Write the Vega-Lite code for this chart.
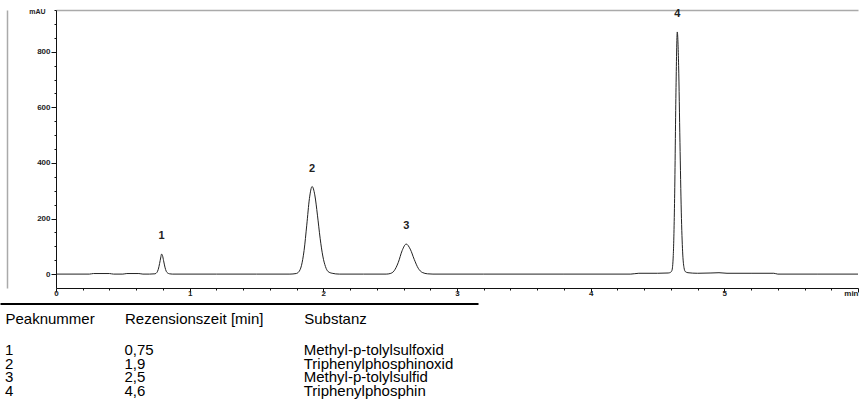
{
  "$schema": "https://vega.github.io/schema/vega-lite/v6.json",
  "background": "white",
  "padding": {"left": 0, "top": 6, "right": 0, "bottom": 0},
  "spacing": 1.5,
  "config": {
    "view": {"stroke": null},
    "font": "Liberation Sans",
    "axis": {"labelFont": "Liberation Sans", "titleFont": "Liberation Sans", "grid": false}
  },
  "datasets": {
    "signal": [
      {"t": 0, "mAU": 0}, {"t": 0.25, "mAU": 0}, {"t": 0.28, "mAU": 2}, {"t": 0.4, "mAU": 2},
      {"t": 0.43, "mAU": 0}, {"t": 0.5, "mAU": 0}, {"t": 0.53, "mAU": 2}, {"t": 0.62, "mAU": 2},
      {"t": 0.65, "mAU": 0}, {"t": 0.7, "mAU": 0}, {"t": 0.74, "mAU": 1}, {"t": 0.755, "mAU": 6},
      {"t": 0.765, "mAU": 17}, {"t": 0.775, "mAU": 38}, {"t": 0.783, "mAU": 58}, {"t": 0.79, "mAU": 72},
      {"t": 0.797, "mAU": 66}, {"t": 0.805, "mAU": 48}, {"t": 0.815, "mAU": 25}, {"t": 0.825, "mAU": 10},
      {"t": 0.835, "mAU": 4}, {"t": 0.85, "mAU": 1}, {"t": 0.87, "mAU": 0}, {"t": 1.2, "mAU": 0},
      {"t": 1.5, "mAU": 0}, {"t": 1.75, "mAU": 0}, {"t": 1.796, "mAU": 2}, {"t": 1.816, "mAU": 8},
      {"t": 1.836, "mAU": 30}, {"t": 1.856, "mAU": 85}, {"t": 1.876, "mAU": 176}, {"t": 1.896, "mAU": 272},
      {"t": 1.916, "mAU": 315}, {"t": 1.936, "mAU": 285}, {"t": 1.956, "mAU": 212}, {"t": 1.976, "mAU": 129},
      {"t": 1.996, "mAU": 65}, {"t": 2.016, "mAU": 27}, {"t": 2.036, "mAU": 9}, {"t": 2.066, "mAU": 3},
      {"t": 2.12, "mAU": 0}, {"t": 2.3, "mAU": 0}, {"t": 2.47, "mAU": 0}, {"t": 2.5, "mAU": 2},
      {"t": 2.53, "mAU": 12}, {"t": 2.56, "mAU": 41}, {"t": 2.59, "mAU": 85}, {"t": 2.62, "mAU": 108},
      {"t": 2.65, "mAU": 90}, {"t": 2.68, "mAU": 53}, {"t": 2.71, "mAU": 21}, {"t": 2.74, "mAU": 6},
      {"t": 2.78, "mAU": 1}, {"t": 2.82, "mAU": 0}, {"t": 3.2, "mAU": 0}, {"t": 3.8, "mAU": 0},
      {"t": 4.3, "mAU": 0}, {"t": 4.36, "mAU": 3}, {"t": 4.5, "mAU": 3}, {"t": 4.58, "mAU": 4},
      {"t": 4.598, "mAU": 6.5}, {"t": 4.608, "mAU": 13}, {"t": 4.618, "mAU": 67}, {"t": 4.628, "mAU": 272},
      {"t": 4.638, "mAU": 652}, {"t": 4.648, "mAU": 871}, {"t": 4.658, "mAU": 750}, {"t": 4.668, "mAU": 474},
      {"t": 4.678, "mAU": 223}, {"t": 4.688, "mAU": 80}, {"t": 4.698, "mAU": 24}, {"t": 4.708, "mAU": 9},
      {"t": 4.728, "mAU": 5}, {"t": 4.8, "mAU": 3}, {"t": 4.9, "mAU": 4}, {"t": 4.96, "mAU": 5},
      {"t": 5.02, "mAU": 3}, {"t": 5.2, "mAU": 3}, {"t": 5.37, "mAU": 3}, {"t": 5.4, "mAU": 0},
      {"t": 5.7, "mAU": 0}, {"t": 6, "mAU": 0}
    ],
    "peaks": [
      {"Peak": "1", "t": 0.79, "mAU": 72},
      {"Peak": "2", "t": 1.916, "mAU": 315},
      {"Peak": "3", "t": 2.62, "mAU": 108},
      {"Peak": "4", "t": 4.648, "mAU": 871}
    ],
    "table": [
      {"Peaknummer": "1", "Rezensionszeit": "0,75", "Substanz": "Methyl-p-tolylsulfoxid"},
      {"Peaknummer": "2", "Rezensionszeit": "1,9", "Substanz": "Triphenylphosphinoxid"},
      {"Peaknummer": "3", "Rezensionszeit": "2,5", "Substanz": "Methyl-p-tolylsulfid"},
      {"Peaknummer": "4", "Rezensionszeit": "4,6", "Substanz": "Triphenylphosphin"}
    ]
  },
  "vconcat": [
    {
      "width": 802,
      "height": 278,
      "layer": [
        {
          "data": {"name": "signal"},
          "mark": {"type": "line", "color": "#222", "strokeWidth": 1, "interpolate": "monotone"},
          "encoding": {
            "x": {
              "field": "t", "type": "quantitative",
              "scale": {"domain": [0, 6], "nice": false, "zero": false},
              "axis": {
                "orient": "bottom",
                "values": [0, 0.2, 0.4, 0.6, 0.8, 1, 1.2, 1.4, 1.6, 1.8, 2, 2.2, 2.4, 2.6, 2.8, 3, 3.2, 3.4, 3.6, 3.8, 4, 4.2, 4.4, 4.6, 4.8, 5, 5.2, 5.4, 5.6, 5.8, 6],
                "tickSize": {"expr": "datum.value % 1 === 0 ? 4 : 2"},
                "tickColor": "#111",
                "domainColor": "#111",
                "labelExpr": "datum.value === 6 ? 'min' : (datum.value % 1 === 0 ? format(datum.value, 'd') : '')",
                "labelAlign": {"expr": "datum.value === 6 ? 'right' : 'center'"},
                "labelFontSize": 8,
                "labelFontWeight": "bold",
                "labelColor": "#222",
                "labelPadding": -3,
                "labelOverlap": false,
                "labelBound": false,
                "labelFlush": false,
                "title": null,
                "minExtent": 14,
                "maxExtent": 14
              }
            },
            "y": {
              "field": "mAU", "type": "quantitative",
              "scale": {"domain": [-50, 950], "nice": false, "zero": false},
              "axis": {
                "orient": "left",
                "values": [0, 50, 100, 150, 200, 250, 300, 350, 400, 450, 500, 550, 600, 650, 700, 750, 800, 850, 900, 950],
                "tickSize": {"expr": "datum.value % 200 === 0 ? 5 : 2"},
                "tickColor": "#111",
                "domainColor": "#111",
                "labelExpr": "datum.value % 200 === 0 ? format(datum.value, 'd') : ''",
                "labelFontSize": 8,
                "labelFontWeight": "bold",
                "labelColor": "#222",
                "labelPadding": 1,
                "labelOverlap": false,
                "labelBound": false,
                "labelFlush": false,
                "title": "mAU",
                "titleAngle": 0,
                "titleX": -19,
                "titleY": 1,
                "titleAlign": "center",
                "titleBaseline": "middle",
                "titleFontSize": 7,
                "titleFontWeight": "bold",
                "titleColor": "#222",
                "minExtent": 56,
                "maxExtent": 56
              }
            }
          }
        },
        {
          "data": {"name": "peaks"},
          "mark": {"type": "text", "fontSize": 11, "fontWeight": "bold", "dy": -18, "color": "#222", "baseline": "middle"},
          "encoding": {
            "x": {
              "field": "t", "type": "quantitative",
              "axis": {"orient": "top", "domainColor": "#aaa", "domainWidth": 1.5, "ticks": false, "labels": false, "title": null, "minExtent": 0, "maxExtent": 0}
            },
            "y": {
              "field": "mAU", "type": "quantitative",
              "axis": {"orient": "left", "offset": 49, "domainColor": "#aaa", "domainWidth": 1.5, "ticks": false, "labels": false, "title": null, "minExtent": 0, "maxExtent": 0}
            },
            "text": {"field": "Peak"}
          }
        }
      ],
      "resolve": {"axis": {"x": "independent", "y": "independent"}}
    },
    {
      "width": 478,
      "height": 100,
      "data": {"name": "table"},
      "transform": [{"fold": ["Peaknummer", "Rezensionszeit", "Substanz"], "as": ["Spalte", "Wert"]}],
      "mark": {"type": "text", "align": "left", "baseline": "middle", "fontSize": 15, "color": "#000", "font": "Liberation Sans"},
      "encoding": {
        "x": {
          "field": "Spalte", "type": "nominal",
          "scale": {"type": "point", "domain": ["Peaknummer", "_a", "Rezensionszeit", "_b", "_c", "Substanz", "_d"], "range": [-56, 422], "padding": 1, "align": 0.0418, "round": false},
          "axis": {
            "orient": "top", "domain": true, "domainColor": "#000", "domainWidth": 2,
            "ticks": false, "tickSize": 0,
            "labelExpr": "datum.value === 'Rezensionszeit' ? 'Rezensionszeit [min]' : (indexof(datum.value, '_') === 0 ? '' : datum.value)",
            "labelAlign": "left", "labelBaseline": "middle", "labelPadding": -14.5,
            "labelFontSize": 15, "labelColor": "#000", "labelAngle": 0,
            "labelOverlap": false, "labelBound": false, "labelFlush": false, "labelLimit": 300,
            "title": null, "minExtent": 0, "maxExtent": 0
          }
        },
        "y": {
          "field": "Peaknummer", "type": "ordinal",
          "scale": {"type": "point", "domain": ["1", "2", "3", "4"], "range": [46.5, 87], "padding": 0, "round": false},
          "axis": null
        },
        "text": {"field": "Wert"}
      }
    }
  ]
}
